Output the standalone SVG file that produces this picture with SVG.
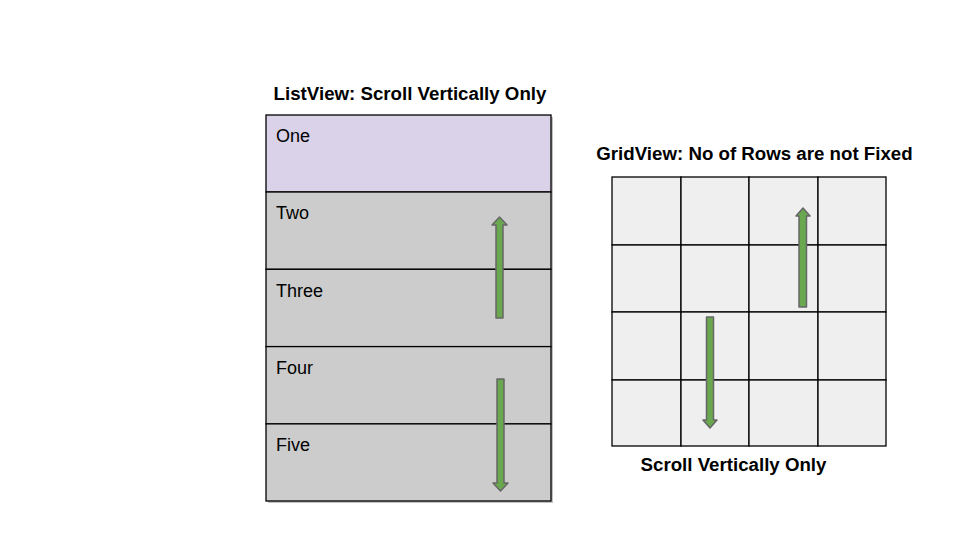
<svg xmlns="http://www.w3.org/2000/svg" width="960" height="540" viewBox="0 0 960 540">
<defs>
<style>
.title{font-family:"Liberation Sans",Arial,sans-serif;font-size:18.7px;font-weight:bold;fill:#000}
.lbl{font-family:"Liberation Sans",Arial,sans-serif;font-size:18px;fill:#000}
.row{stroke:#000;stroke-width:1.3}
.cell{fill:#efefef;stroke:#000;stroke-width:1.3}
.arrow{fill:#6aa84f;stroke:#666;stroke-width:1.5;stroke-linejoin:round}
</style>
</defs>
<rect width="960" height="540" fill="#fff"/>
<text class="title" x="410" y="100" text-anchor="middle">ListView: Scroll Vertically Only</text>
<g id="listview">
<rect x="268" y="117" width="285" height="386" fill="#999" opacity="0.6"/>
<rect id="row1" class="row" x="266" y="115" width="285" height="77" fill="#d9d2e9"/>
<rect id="row2" class="row" x="266" y="192" width="285" height="77.3" fill="#cccccc"/>
<rect id="row3" class="row" x="266" y="269.3" width="285" height="77.3" fill="#cccccc"/>
<rect id="row4" class="row" x="266" y="346.6" width="285" height="77.3" fill="#cccccc"/>
<rect id="row5" class="row" x="266" y="423.9" width="285" height="77.1" fill="#cccccc"/>
<text class="lbl" x="276" y="142">One</text>
<text class="lbl" x="276" y="219">Two</text>
<text class="lbl" x="276" y="297">Three</text>
<text class="lbl" x="276" y="374">Four</text>
<text class="lbl" x="276" y="451">Five</text>
</g>
<text class="title" x="754.5" y="160" text-anchor="middle">GridView: No of Rows are not Fixed</text>
<g id="gridview">
<rect class="cell" x="612" y="177" width="69" height="68"/>
<rect class="cell" x="681" y="177" width="68" height="68"/>
<rect class="cell" x="749" y="177" width="69" height="68"/>
<rect class="cell" x="818" y="177" width="68" height="68"/>
<rect class="cell" x="612" y="245" width="69" height="67"/>
<rect class="cell" x="681" y="245" width="68" height="67"/>
<rect class="cell" x="749" y="245" width="69" height="67"/>
<rect class="cell" x="818" y="245" width="68" height="67"/>
<rect class="cell" x="612" y="312" width="69" height="68"/>
<rect class="cell" x="681" y="312" width="68" height="68"/>
<rect class="cell" x="749" y="312" width="69" height="68"/>
<rect class="cell" x="818" y="312" width="68" height="68"/>
<rect class="cell" x="612" y="380" width="69" height="66"/>
<rect class="cell" x="681" y="380" width="68" height="66"/>
<rect class="cell" x="749" y="380" width="69" height="66"/>
<rect class="cell" x="818" y="380" width="68" height="66"/>
</g>
<text class="title" x="733.5" y="471" text-anchor="middle">Scroll Vertically Only</text>
<g id="connectors">
<path class="arrow" d="M496,318 L496,225 L492,225 L499.5,217 L507,225 L503,225 L503,318 Z"/>
<path class="arrow" d="M497,379 L497,483 L493,483 L500.5,491 L508,483 L504,483 L504,379 Z"/>
<path class="arrow" d="M799,307 L799,216 L796,216 L803,208 L810,216 L806.5,216 L806.5,307 Z"/>
<path class="arrow" d="M706.5,317 L706.5,420 L703,420 L710,428 L717,420 L713.5,420 L713.5,317 Z"/>
</g>
</svg>
